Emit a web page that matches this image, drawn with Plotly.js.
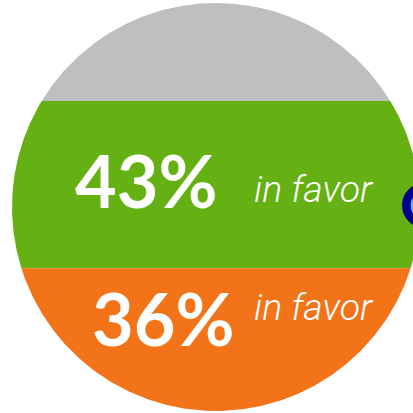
<!DOCTYPE html>
<html><head><meta charset="utf-8">
<script src="https://cdn.plot.ly/plotly-3.0.1.min.js"></script>
<style>html,body{margin:0;padding:0;background:#fff;overflow:hidden}#c{width:413px;height:413px;overflow:hidden}</style>
</head><body><div id="c"></div>
<script>
// Band heights as share of the circle's diameter, top to bottom
const bandNames = ['Other', 'Group A', 'Group B'];
const bandHeights = [24, 41, 35];
const bandColors = ['#BFBFBF', '#65B012', '#F27318'];
const percentLabels = ['43%', '36%'];
const noteLabels = ['in favor', 'in favor'];
const percentX = [33, 37.1];
const percentY = [56.5, 22.9];
const noteX = [74.0, 74.0];
const noteY = [54.4, 25.6];
const badgeX = [101.1];
const badgeY = [50.4];

const R = 50, cx = 50, cy = 50;
function band(upper, lower) {
  const xs = [], ys = [], n = 120;
  const a0 = Math.asin((upper - cy) / R), a1 = Math.asin((lower - cy) / R);
  for (let i = 0; i <= n; i++) { const a = a0 + (a1 - a0) * i / n; xs.push(cx + R * Math.cos(a)); ys.push(cy + R * Math.sin(a)); }
  for (let i = 0; i <= n; i++) { const a = a1 + (a0 - a1) * i / n; xs.push(cx - R * Math.cos(a)); ys.push(cy + R * Math.sin(a)); }
  xs.push(xs[0]); ys.push(ys[0]);
  return { xs, ys };
}
const traces = [];
let level = 100;
bandHeights.forEach((h, i) => {
  const b = band(level, level - h);
  traces.push({ type: 'scatter', mode: 'lines', x: b.xs, y: b.ys, fill: 'toself', fillcolor: bandColors[i],
    line: { width: 0, color: bandColors[i] }, name: bandNames[i], hoverinfo: 'name', showlegend: false });
  level -= h;
});
traces.push({ type: 'scatter', mode: 'markers', x: badgeX, y: badgeY, showlegend: false, hoverinfo: 'skip',
  marker: { size: 36.5, color: '#5AABF2', line: { width: 8.5, color: '#00008B' } } });

const annotations = [];
percentLabels.forEach((t, i) => annotations.push({ x: percentX[i], y: percentY[i], xref: 'x', yref: 'y', text: t, showarrow: false,
  font: { family: 'Lato, sans-serif', size: 72, color: '#fff', weight: 700 } }));
noteLabels.forEach((t, i) => annotations.push({ x: noteX[i], y: noteY[i], xref: 'x', yref: 'y', text: t, showarrow: false,
  font: { family: 'Roboto, sans-serif', size: 37.5, color: '#fff', style: 'italic', weight: 300 } }));

Plotly.newPlot('c', traces, {
  width: 460, height: 413, margin: { l: 0, r: 0, t: 0, b: 0 },
  paper_bgcolor: '#fff', plot_bgcolor: '#fff', showlegend: false,
  xaxis: { range: [-2.94, 109.804], visible: false, fixedrange: true },
  yaxis: { range: [-0.49, 100.735], visible: false, fixedrange: true },
  annotations
}, { displayModeBar: false, staticPlot: true });
</script></body></html>
